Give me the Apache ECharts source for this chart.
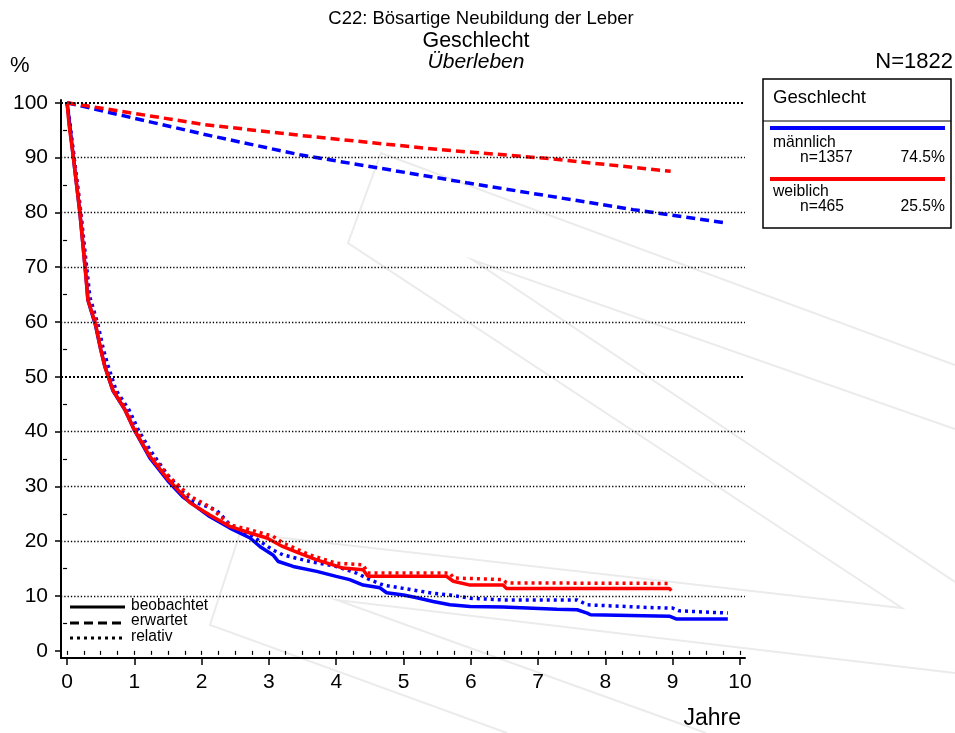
<!DOCTYPE html>
<html>
<head>
<meta charset="utf-8">
<script src="https://cdn.jsdelivr.net/npm/echarts@6/dist/echarts.min.js"></script>
<style>
  html, body { margin: 0; padding: 0; background: #fff; }
  #chart { width: 955px; height: 733px; }
</style>
</head>
<body>
<div id="chart"></div>
<script>
  // Jahre / Prozent
  var jahreTicks = [0, 1, 2, 3, 4, 5, 6, 7, 8, 9, 10];
  var prozentTicks = [0, 10, 20, 30, 40, 50, 60, 70, 80, 90, 100];

  // männlich
  var maennlichBeob = [
    [0, 100], [0.03, 97], [0.094, 90], [0.19, 80], [0.28, 68.5], [0.31, 64], [0.42, 59.5],
    [0.5, 55], [0.56, 52], [0.68, 47.5], [0.86, 44], [1.0, 40.3], [1.23, 35.2], [1.5, 31],
    [1.72, 28.1], [2.12, 24.5], [2.42, 22.4], [2.72, 20.6], [2.87, 19.0], [3.06, 17.5],
    [3.14, 16.3], [3.36, 15.4], [3.71, 14.5], [4.0, 13.6], [4.2, 13.0], [4.4, 12.0],
    [4.65, 11.5], [4.75, 10.6], [5.0, 10.2], [5.2, 9.7], [5.44, 9.0], [5.69, 8.4],
    [5.99, 8.1], [6.48, 8.0], [7.28, 7.6], [7.58, 7.5], [7.73, 6.9], [7.78, 6.6],
    [8.96, 6.3], [9.06, 5.8], [9.82, 5.8]
  ];
  var maennlichErw = [
    [0, 100], [2.05, 94.2], [3.46, 90.5], [5.94, 85.4], [8.41, 80.5], [9.78, 78.1]
  ];
  var maennlichRel = [
    [0, 100], [0.03, 97.5], [0.1, 90.5], [0.2, 80.5], [0.3, 69], [0.34, 64.5], [0.46, 59.5],
    [0.54, 55], [0.61, 52], [0.73, 47.5], [0.92, 44], [1.06, 40.3], [1.23, 36.7], [1.5, 32],
    [1.83, 27.5], [2.22, 25.7], [2.47, 22.4], [2.72, 21.2], [3.06, 18.4], [3.21, 17.5],
    [3.61, 16.3], [4.0, 15.4], [4.3, 14.2], [4.5, 13.0], [4.7, 12.0], [5.0, 11.4],
    [5.44, 10.5], [5.69, 10.2], [5.99, 9.6], [6.48, 9.3], [7.58, 9.3], [7.73, 8.4],
    [8.67, 7.9], [9.0, 7.8], [9.1, 7.3], [9.82, 6.9]
  ];

  // weiblich
  var weiblichBeob = [
    [0, 100], [0.03, 96], [0.094, 90], [0.19, 80], [0.28, 68.3], [0.31, 64], [0.42, 59.8],
    [0.5, 55], [0.56, 51.9], [0.68, 47.6], [0.86, 44], [1.0, 40.3], [1.23, 35.5], [1.5, 31.3],
    [1.83, 27], [2.12, 24.8], [2.42, 22.7], [2.72, 21.5], [2.97, 20.6], [3.21, 19.0],
    [3.46, 17.8], [3.71, 16.6], [3.95, 15.7], [4.1, 15.1], [4.4, 14.8], [4.47, 13.6],
    [5.64, 13.6], [5.74, 12.7], [5.99, 12.0], [6.48, 12.0], [6.53, 11.4], [8.95, 11.4],
    [8.98, 11.0]
  ];
  var weiblichErw = [
    [0, 100], [2.05, 96], [3.5, 94], [5.5, 91.5], [7.17, 89.8], [8.97, 87.5]
  ];
  var weiblichRel = [
    [0, 100], [0.03, 96.5], [0.1, 90.3], [0.2, 80.3], [0.29, 68.5], [0.32, 64.2], [0.43, 60],
    [0.51, 55.2], [0.57, 52.2], [0.69, 47.8], [0.87, 44.2], [1.01, 40.6], [1.23, 36], [1.5, 32],
    [1.83, 28.2], [2.12, 26.3], [2.42, 23.0], [2.72, 22.1], [3.06, 20.9], [3.21, 19.7],
    [3.61, 17.5], [4.0, 16.0], [4.4, 15.7], [4.47, 14.2], [5.69, 14.2], [5.74, 13.3],
    [6.48, 13.0], [6.53, 12.4], [8.98, 12.3]
  ];

  var gruppen = ['männlich', 'weiblich'];
  var gruppenN = ['n=1357', 'n=465'];
  var gruppenAnteil = ['74.5%', '25.5%'];

  var BLAU = '#0000ff';
  var ROT = '#ff0000';
  var FONT = '"Liberation Sans", Arial, sans-serif';

  var quartale = [];
  for (var q = 0; q <= 40; q++) quartale.push(q / 4);
  var fuenfer = [5, 15, 25, 35, 45, 55, 65, 75, 85, 95];

  var myChart = echarts.init(document.getElementById('chart'));

  function linie(name, data, color, type) {
    return {
      name: name,
      type: 'line',
      data: data,
      showSymbol: false,
      symbol: 'none',
      silent: true,
      z: type === 'solid' ? 4 : 3,
      lineStyle: { color: color, width: 3.5, type: type }
    };
  }

  var gitter = [];
  prozentTicks.forEach(function (v) {
    if (v === 0) return;
    var dick = (v === 50 || v === 100);
    gitter.push({
      yAxis: v,
      lineStyle: { color: '#000', width: dick ? 2 : 1.3, type: dick ? [2, 2] : [1.3, 2] }
    });
  });

  var watermark = [
    [[955, 365], [381, 153], [348, 243], [902, 608], [240, 533], [210, 625], [507, 733]],
    [[955, 429], [473, 260], [955, 582]],
    [[955, 673], [337, 600], [706, 733]]
  ].map(function (pts) {
    return { type: 'polyline', z: -10, silent: true, shape: { points: pts },
      style: { stroke: '#ebebeb', lineWidth: 2, fill: null } };
  });

  function txt(t, x, y, size, extra) {
    var s = { text: t, x: x, y: y, font: size + 'px ' + FONT, fill: '#000',
      align: 'left', verticalAlign: 'middle' };
    if (extra) for (var k in extra) s[k] = extra[k];
    return { type: 'text', z: 100, silent: true, style: s };
  }
  function strich(x1, y1, x2, y2, color, w, dash) {
    return { type: 'line', z: 100, silent: true, shape: { x1: x1, y1: y1, x2: x2, y2: y2 },
      style: { stroke: color, lineWidth: w, lineDash: dash || null } };
  }

  var graphics = watermark.concat([
    txt('C22: Bösartige Neubildung der Leber', 481, 19, 18.5, { align: 'center' }),
    txt('Geschlecht', 476, 41, 21.4, { align: 'center' }),
    txt('Überleben', 476, 62, 21, { align: 'center', font: 'italic 21px ' + FONT }),
    txt('%', 10, 66, 22),
    txt('N=1822', 953, 62, 22, { align: 'right' }),
    txt('Jahre', 741, 719, 23, { align: 'right' }),
    { type: 'rect', z: 100, silent: true, shape: { x: 763, y: 79, width: 188, height: 149 },
      style: { fill: '#fff', stroke: '#000', lineWidth: 1.5 } },
    strich(763, 121, 951, 121, '#000', 1.2),
    txt('Geschlecht', 773, 98, 18.6),
    strich(770, 128, 945, 128, BLAU, 4),
    txt(gruppen[0], 773, 143, 15.7),
    txt(gruppenN[0], 800, 158, 15.7),
    txt(gruppenAnteil[0], 945, 158, 15.7, { align: 'right' }),
    strich(770, 179, 945, 179, ROT, 4),
    txt(gruppen[1], 773, 192, 15.7),
    txt(gruppenN[1], 800, 207, 15.7),
    txt(gruppenAnteil[1], 945, 207, 15.7, { align: 'right' }),
    strich(70, 607, 125, 607, '#000', 3),
    strich(70, 623, 125, 623, '#000', 3, [9, 5]),
    strich(70, 638, 125, 638, '#000', 3, [3, 4]),
    txt('beobachtet', 131, 606, 15.6),
    txt('erwartet', 131, 621, 15.6),
    txt('relativ', 131, 637, 15.6)
  ]);

  var achsenLinie = { show: true, onZero: false, lineStyle: { color: '#000', width: 2 } };

  var option = {
    animation: false,
    backgroundColor: '#fff',
    grid: { left: 61, right: 210, top: 100, bottom: 75, containLabel: false },
    xAxis: [
      {
        type: 'value', min: -0.09, max: 10.075, position: 'bottom',
        axisLine: achsenLinie,
        axisTick: { show: true, customValues: jahreTicks, length: 7, lineStyle: { color: '#000', width: 1.5 } },
        axisLabel: { customValues: jahreTicks, fontSize: 21, color: '#000', fontFamily: FONT, margin: 14 },
        splitLine: { show: false }
      },
      {
        type: 'value', min: -0.09, max: 10.075, position: 'bottom',
        axisLine: { show: false },
        axisTick: { show: true, customValues: quartale, length: 4, lineStyle: { color: '#000', width: 1.2 } },
        axisLabel: { show: false },
        splitLine: { show: false }
      }
    ],
    yAxis: [
      {
        type: 'value', min: -1.3, max: 100.5, position: 'left',
        axisLine: achsenLinie,
        axisTick: { show: true, customValues: prozentTicks, length: 6, lineStyle: { color: '#000', width: 1.5 } },
        axisLabel: { customValues: prozentTicks, fontSize: 21, color: '#000', fontFamily: FONT, margin: 13 },
        splitLine: { show: false }
      },
      {
        type: 'value', min: -1.3, max: 100.5, position: 'left',
        axisLine: { show: false },
        axisTick: { show: true, customValues: fuenfer, length: 4, lineStyle: { color: '#000', width: 1.2 } },
        axisLabel: { show: false },
        splitLine: { show: false }
      }
    ],
    series: [
      {
        type: 'line', data: [], silent: true, z: 1,
        markLine: { silent: true, symbol: 'none', label: { show: false }, data: gitter }
      },
      linie('männlich erwartet', maennlichErw, BLAU, [9, 5]),
      linie('weiblich erwartet', weiblichErw, ROT, [9, 5]),
      linie('männlich relativ', maennlichRel, BLAU, [3, 4]),
      linie('weiblich relativ', weiblichRel, ROT, [3, 4]),
      linie('männlich beobachtet', maennlichBeob, BLAU, 'solid'),
      linie('weiblich beobachtet', weiblichBeob, ROT, 'solid')
    ],
    graphic: graphics
  };

  myChart.setOption(option, true);
</script>
</body>
</html>
